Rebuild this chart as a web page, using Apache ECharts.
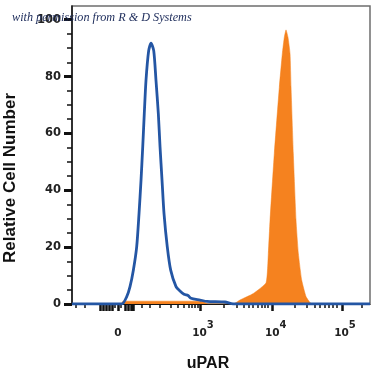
<!DOCTYPE html>
<html>
<head>
<meta charset="utf-8">
<script src="https://cdn.jsdelivr.net/npm/echarts@6/dist/echarts.min.js"></script>
<style>html,body{margin:0;padding:0;background:#fff}#c{width:375px;height:375px}</style>
</head>
<body>
<div id="c"></div>
<script>
// x positions are in display (decade) units of the biexponential axis: 10^3 -> 3, 10^4 -> ~4, 10^5 -> 5
const blueX = [1.197, 1.897, 1.968, 2.014, 2.061, 2.108, 2.141, 2.169, 2.193, 2.215, 2.239, 2.277, 2.310, 2.348, 2.380, 2.413, 2.437, 2.465, 2.493, 2.539, 2.587, 2.662, 2.718, 2.775, 2.831, 2.873, 3.000, 3.099, 3.352, 3.465, 5.394];
const blueY = [0, 0, 2.6, 6.1, 11.9, 20.1, 31.8, 43.5, 55.2, 66.9, 78.6, 89.1, 91.7, 89.1, 78.6, 66.9, 55.2, 43.5, 31.8, 20.1, 11.9, 6.1, 4.6, 3.4, 3.0, 2.0, 1.4, 0.9, 0.7, 0, 0];
const orangeX = [1.197, 1.887, 1.915, 3.042, 3.113, 3.469, 3.563, 3.751, 3.930, 3.962, 3.986, 4.046, 4.117, 4.159, 4.187, 4.211, 4.239, 4.268, 4.282, 4.314, 4.352, 4.385, 4.432, 4.493, 4.549, 4.577, 5.394];
const orangeY = [0, 0, 1.0, 1.0, 0, 0, 1.4, 3.7, 7.5, 17.8, 29.5, 52.9, 76.3, 88, 93.8, 96.4, 93.8, 88, 76.3, 52.9, 29.5, 17.8, 8.4, 2.6, 0.5, 0, 0];

const xMajorTicks = [1.845, 3, 4.024, 5];
const xMajorLabels = ['0', '3', '4', '5'];
const xClusterTicks = [1.592, 1.634, 1.676, 1.718, 1.761, 1.944, 1.986, 2.028, 2.056];
const xMinorTicks = [1.254, 1.380, 1.803, 1.887, 2.179, 2.296, 2.437, 2.592, 2.680, 2.765, 2.835, 2.883, 2.930, 2.965,
  3.338, 3.521, 3.620, 3.690, 3.746, 3.817, 3.873, 3.915, 3.958,
  4.338, 4.507, 4.620, 4.690, 4.761, 4.817, 4.873, 4.930, 5.282];
const yMajorTicks = [0, 20, 40, 60, 80, 100];
const yMinorTicks = [5, 10, 15, 25, 30, 35, 45, 50, 55, 65, 70, 75, 85, 90, 95];

const X_MIN = 1.197, X_MAX = 5.394, Y_MIN = 0, Y_MAX = 104.8;
const BLUE = '#2456a4', ORANGE = '#f5821f';

function zip(a, b) { return a.map((v, i) => [v, b[i]]); }
function xLabel(v) {
  const i = xMajorTicks.findIndex(t => Math.abs(t - v) < 1e-6);
  if (i < 0) return '';
  const e = xMajorLabels[i];
  if (e === '0') return '{s| }{a|0}{s| }';
  return '{s| }{a|10}{e|' + e + '}';
}

const chart = echarts.init(document.getElementById('c'), null, {renderer: 'canvas'});
chart.setOption({
  animation: false,
  title: {
    text: 'with permission from R & D Systems',
    left: 7, top: 7,
    textStyle: {fontFamily: 'Liberation Serif', fontStyle: 'italic', fontWeight: 'normal', fontSize: 12.2, color: '#1c2b5a'}
  },
  grid: {left: 72, right: 5, top: 6, bottom: 71, show: true, borderColor: '#6e6e6e', borderWidth: 1.5, containLabel: false, outerBoundsMode: 'none'},
  xAxis: [{
    type: 'value', min: X_MIN, max: X_MAX, position: 'bottom',
    name: 'uPAR', nameLocation: 'middle', nameGap: 52,
    nameTextStyle: {fontFamily: 'Liberation Sans', fontWeight: 'bold', fontSize: 16, color: '#111', lineHeight: 16, padding: [0, 26, 0, 0]},
    splitLine: {show: false},
    axisLine: {show: true, lineStyle: {color: '#111', width: 1}},
    axisTick: {show: true, customValues: xMajorTicks.concat(xClusterTicks), length: 7, lineStyle: {color: '#111', width: 2.5}},
    axisLabel: {
      show: true, customValues: xMajorTicks, margin: 16, formatter: xLabel,
      rich: {
        s: {width: 6, lineHeight: 19},
        a: {fontFamily: 'DejaVu Sans', fontWeight: 'bold', fontSize: 10.5, color: '#222', lineHeight: 12, verticalAlign: 'bottom'},
        e: {fontFamily: 'DejaVu Sans', fontWeight: 'bold', fontSize: 10, color: '#222', lineHeight: 17, verticalAlign: 'top'}
      }
    }
  }, {
    type: 'value', min: X_MIN, max: X_MAX, position: 'bottom', offset: 0,
    splitLine: {show: false},
    axisLine: {show: false},
    axisTick: {show: true, customValues: xMinorTicks, length: 4, lineStyle: {color: '#111', width: 1.5}},
    axisLabel: {show: false}
  }],
  yAxis: [{
    type: 'value', min: Y_MIN, max: Y_MAX, position: 'left',
    name: 'Relative Cell Number', nameLocation: 'middle', nameGap: 53, nameRotate: 90,
    nameTextStyle: {fontFamily: 'Liberation Sans', fontWeight: 'bold', fontSize: 17, color: '#111', lineHeight: 17, padding: [0, 46, 0, 0]},
    splitLine: {show: false},
    axisLine: {show: true, lineStyle: {color: '#111', width: 1.5}},
    axisTick: {show: true, customValues: yMajorTicks, length: 8, lineStyle: {color: '#111', width: 3}},
    axisLabel: {show: true, customValues: yMajorTicks, margin: 11, fontFamily: 'DejaVu Sans', fontWeight: 'bold', fontSize: 11.5, color: '#222'}
  }, {
    type: 'value', min: Y_MIN, max: Y_MAX, position: 'left', offset: 0,
    splitLine: {show: false},
    axisLine: {show: false},
    axisTick: {show: true, customValues: yMinorTicks, length: 5, lineStyle: {color: '#111', width: 1.5}},
    axisLabel: {show: false}
  }],
  series: [{
    name: 'uPAR', type: 'line', xAxisIndex: 0, yAxisIndex: 0,
    data: zip(orangeX, orangeY), showSymbol: false, symbol: 'none', smooth: 0.15,
    lineStyle: {color: ORANGE, width: 0.5}, areaStyle: {color: ORANGE, opacity: 1}, z: 2
  }, {
    name: 'Isotype', type: 'line', xAxisIndex: 0, yAxisIndex: 0,
    data: zip(blueX, blueY), showSymbol: false, symbol: 'none', smooth: 0.25,
    lineStyle: {color: BLUE, width: 2.8}, z: 3
  }]
});
</script>
</body>
</html>
